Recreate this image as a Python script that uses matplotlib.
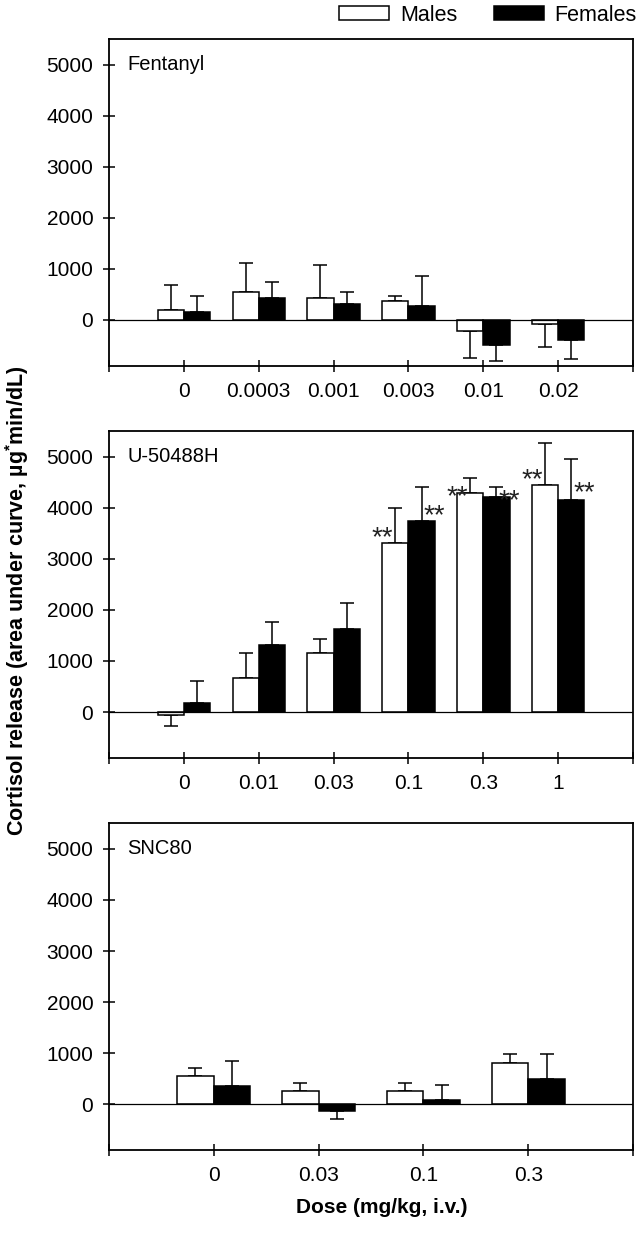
import numpy as np
import matplotlib
matplotlib.use("Agg")
import matplotlib.pyplot as plt

plt.rcParams['font.family'] = ['Liberation Sans', 'DejaVu Sans']
plt.rcParams['mathtext.fontset'] = 'custom'
plt.rcParams['mathtext.rm'] = 'Liberation Sans'
plt.rcParams['mathtext.bf'] = 'Liberation Sans:bold'

# data (mean and one-sided SEM)
fen_doses = ['0', '0.0003', '0.001', '0.003', '0.01', '0.02']
fen_male = [203, 542, 425, 366, -216, -78]
fen_male_sem = [490, 582, 647, 98, 523, 445]
fen_female = [163, 425, 314, 268, -490, -399]
fen_female_sem = [314, 314, 228, 588, 307, 372]

u50_doses = ['0', '0.01', '0.03', '0.1', '0.3', '1']
u50_male = [-65, 660, 1157, 3305, 4278, 4450]
u50_male_sem = [216, 503, 281, 692, 305, 810]
u50_female = [183, 1320, 1621, 3735, 4212, 4148]
u50_female_sem = [431, 438, 510, 673, 186, 798]
# "**" marks (level of the asterisks, None = no mark)
u50_male_star = [None, None, None, 3580, 4390, 4720]
u50_female_star = [None, None, None, 4010, 4300, 4460]

snc_doses = ['0', '0.03', '0.1', '0.3']
snc_male = [556, 261, 268, 810]
snc_male_sem = [156, 151, 150, 170]
snc_female = [359, -131, 92, 490]
snc_female_sem = [484, 150, 281, 497]

panels = [
    ('Fentanyl', fen_doses, fen_male, fen_male_sem, fen_female, fen_female_sem, None, None),
    ('U-50488H', u50_doses, u50_male, u50_male_sem, u50_female, u50_female_sem, u50_male_star, u50_female_star),
    ('SNC80', snc_doses, snc_male, snc_male_sem, snc_female, snc_female_sem, None, None),
]

fig = plt.figure(figsize=(6.4, 12.33), dpi=100)
bottoms = [0.7032, 0.3852, 0.0671]
w = 0.35


def one_sided(vals, sem):
    vals = np.array(vals, dtype=float)
    sem = np.array(sem, dtype=float)
    lo = np.where(vals < 0, sem, 0)
    hi = np.where(vals >= 0, sem, 0)
    return [lo, hi]


for (name, doses, m, msem, f, fsem, mstar, fstar), b in zip(panels, bottoms):
    ax = fig.add_axes([0.1703, b, 0.8188, 0.2652])
    n = len(doses)
    x = np.arange(n)
    bm = ax.bar(x - w / 2, m, w, color='white', edgecolor='black', linewidth=1.1, zorder=3, label='Males')
    bf = ax.bar(x + w / 2, f, w, color='black', edgecolor='black', linewidth=1.1, zorder=3, label='Females')
    ax.errorbar(x - w / 2, m, yerr=one_sided(m, msem), fmt='none', ecolor='black',
                elinewidth=1.1, capsize=5, capthick=1.1, zorder=2)
    ax.errorbar(x + w / 2, f, yerr=one_sided(f, fsem), fmt='none', ecolor='black',
                elinewidth=1.1, capsize=5, capthick=1.1, zorder=2)
    ax.axhline(0, color='black', lw=0.9, zorder=4)

    if mstar is not None:
        for i in range(n):
            if mstar[i] is not None:
                ax.annotate('**', xy=(i - w / 2, mstar[i]), xytext=(-1.5, -11.5),
                            textcoords='offset points', ha='right', va='baseline',
                            fontsize=20, color='#222222', zorder=5)
            if fstar[i] is not None:
                ax.annotate('**', xy=(i + w / 2, fstar[i]), xytext=(1.5, -11.5),
                            textcoords='offset points', ha='left', va='baseline',
                            fontsize=20, color='#222222', zorder=5)

    ax.set_xlim(-1, n)
    ax.set_ylim(-900, 5500)
    ax.set_yticks([0, 1000, 2000, 3000, 4000, 5000])
    ax.set_xticks(range(-1, n + 1))
    ax.set_xticklabels([''] + doses + [''])
    ax.tick_params(direction='inout', length=8.6, width=1.1, labelsize=15, pad=7)
    for s in ax.spines.values():
        s.set_linewidth(1.3)
    ax.text(0.035, 5000, name, transform=ax.get_yaxis_transform(), fontsize=14.5,
            ha='left', va='center')

fig.legend(handles=[bm, bf], labels=['Males', 'Females'], loc='center right',
           bbox_to_anchor=(0.995, 0.9878), ncol=2, frameon=False, fontsize=15.5,
           handlelength=2.33, handleheight=0.65, handletextpad=0.5, columnspacing=1.7,
           borderaxespad=0, borderpad=0)

fig.text(0.027, 0.513, r'Cortisol release (area under curve, µg$^{\mathbf{*}}$min/dL)',
         rotation=90, ha='center', va='center', fontsize=15.5, fontweight='bold')
fig.text(0.597, 0.021, 'Dose (mg/kg, i.v.)', ha='center', va='center',
         fontsize=15, fontweight='bold')

fig.savefig('out.png', dpi=100)
